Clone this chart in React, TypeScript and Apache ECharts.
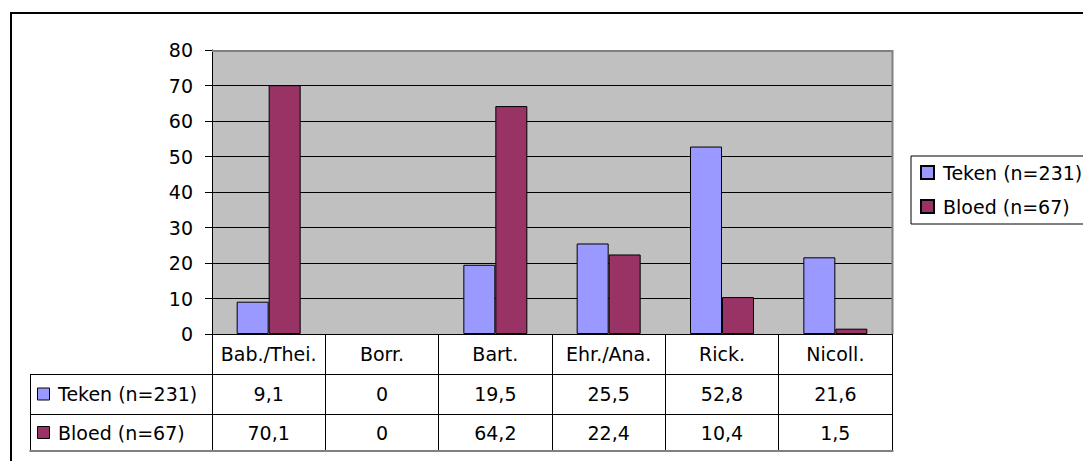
import React, { useEffect, useRef } from "react";
import * as echarts from "echarts";

const categories = ["Bab./Thei.", "Borr.", "Bart.", "Ehr./Ana.", "Rick.", "Nicoll."];
const seriesNames = ["Teken (n=231)", "Bloed (n=67)"];
const tekenValues = [9.1, 0, 19.5, 25.5, 52.8, 21.6];
const bloedValues = [70.1, 0, 64.2, 22.4, 10.4, 1.5];
const yTicks = { min: 0, max: 80, interval: 10 };

const COLORS = ["#9999FF", "#993366"];
const FONT = "DejaVu Sans";
const FS = 19;

const G = { left: 212, top: 50, width: 680, height: 284 };
const ROW_H1 = 40; // header row
const ROW2_Y = G.top + G.height + ROW_H1; // 374
const ROW3_Y = ROW2_Y + 40; // 414
const TABLE_BOTTOM = 451;
const TABLE_LEFT = 30;

const fmt = (v: number) => String(v).replace(".", ",");
const barData = (vals: number[]) =>
  vals.map((v) => (v === 0 ? { value: v, itemStyle: { borderWidth: 0 } } : v));

export default function App() {
  const ref = useRef<HTMLDivElement>(null);
  useEffect(() => {
    if (!ref.current) return;
    const chart = echarts.init(ref.current, null, { renderer: "svg" });
    const right = G.left + G.width;
    const bottom = G.top + G.height;
    const rowCenters = [(ROW2_Y + ROW3_Y) / 2, (ROW3_Y + TABLE_BOTTOM) / 2];
    const valueRows = [tekenValues, bloedValues];
    const labelStyle = { fontFamily: FONT, fontSize: FS, color: "#000" };

    const valueAxis = (idx: number) => ({
      type: "category",
      gridIndex: 0,
      position: "bottom",
      data: categories,
      axisLine: { show: false },
      axisTick: { show: false },
      splitLine: { show: false },
      axisLabel: {
        ...labelStyle,
        interval: 0,
        verticalAlign: "middle",
        margin: rowCenters[idx] - bottom,
        formatter: (_v: string, i: number) => fmt(valueRows[idx][i]),
      },
    });

    const graphics: any[] = [
      {
        type: "rect",
        shape: { x: 11, y: 13, width: 1300, height: 700 },
        style: { fill: "none", stroke: "#000", lineWidth: 2 },
        z: 10,
      },
      {
        type: "line",
        shape: { x1: G.left, y1: G.top + 1, x2: right + 1, y2: G.top + 1 },
        style: { stroke: "#808080", lineWidth: 2 },
        z: 10,
      },
      {
        type: "line",
        shape: { x1: right + 0.5, y1: G.top, x2: right + 0.5, y2: bottom },
        style: { stroke: "#808080", lineWidth: 2 },
        z: 10,
      },
      {
        type: "line",
        shape: { x1: TABLE_LEFT, y1: ROW2_Y + 0.5, x2: right, y2: ROW2_Y + 0.5 },
        style: { stroke: "#000", lineWidth: 1 },
        z: 10,
      },
      {
        type: "line",
        shape: { x1: TABLE_LEFT, y1: ROW3_Y + 0.5, x2: right, y2: ROW3_Y + 0.5 },
        style: { stroke: "#000", lineWidth: 1 },
        z: 10,
      },
      {
        type: "line",
        shape: { x1: TABLE_LEFT + 0.5, y1: ROW2_Y, x2: TABLE_LEFT + 0.5, y2: TABLE_BOTTOM },
        style: { stroke: "#000", lineWidth: 1 },
        z: 10,
      },
      {
        type: "line",
        shape: { x1: TABLE_LEFT - 0.5, y1: TABLE_BOTTOM, x2: right + 1.5, y2: TABLE_BOTTOM },
        style: { stroke: "#808080", lineWidth: 2 },
        z: 11,
      },
    ];
    seriesNames.forEach((name, i) => {
      const cy = rowCenters[i];
      graphics.push({
        type: "rect",
        shape: { x: 37.5, y: cy - 6, width: 12, height: 12 },
        style: { fill: COLORS[i], stroke: "#000", lineWidth: 1 },
        z: 10,
      });
      graphics.push({
        type: "text",
        x: 58,
        y: cy,
        style: {
          text: name,
          font: `${FS}px '${FONT}'`,
          fill: "#000",
          verticalAlign: "middle",
          align: "left",
        },
        z: 10,
      });
    });

    chart.setOption({
      animation: false,
      backgroundColor: "#ffffff",
      grid: {
        left: G.left,
        top: G.top,
        width: G.width,
        height: G.height,
        show: true,
        backgroundColor: "#C0C0C0",
        borderWidth: 0,
      },
      legend: {
        orient: "vertical",
        left: 911,
        top: 156,
        padding: [7, 60, 8, 9],
        itemGap: 15,
        itemWidth: 13,
        itemHeight: 13,
        icon: "rect",
        borderColor: "#000",
        borderWidth: 1,
        textStyle: { ...labelStyle, padding: [0, 0, 0, 4] },
        data: seriesNames,
      },
      xAxis: [
        {
          type: "category",
          gridIndex: 0,
          position: "bottom",
          data: categories,
          axisLine: { show: true, lineStyle: { color: "#000", width: 1 } },
          axisTick: {
            show: true,
            interval: 0,
            length: TABLE_BOTTOM - bottom,
            lineStyle: { color: "#000", width: 1 },
          },
          splitLine: { show: false },
          axisLabel: { ...labelStyle, interval: 0, verticalAlign: "middle", margin: ROW_H1 / 2 },
        },
        valueAxis(0),
        valueAxis(1),
      ],
      yAxis: {
        type: "value",
        min: yTicks.min,
        max: yTicks.max,
        interval: yTicks.interval,
        axisLine: { show: true, lineStyle: { color: "#000", width: 1 } },
        axisTick: { show: true, length: 7, lineStyle: { color: "#000" } },
        splitLine: { show: true, lineStyle: { color: "#000", width: 1 } },
        axisLabel: { ...labelStyle, margin: 19 },
      },
      series: [
        {
          name: seriesNames[0],
          type: "bar",
          xAxisIndex: 0,
          data: barData(tekenValues),
          barWidth: 32,
          barGap: "0%",
          itemStyle: { color: COLORS[0], borderColor: "#000", borderWidth: 1 },
        },
        {
          name: seriesNames[1],
          type: "bar",
          xAxisIndex: 0,
          data: barData(bloedValues),
          barWidth: 32,
          barGap: "0%",
          itemStyle: { color: COLORS[1], borderColor: "#000", borderWidth: 1 },
        },
      ],
      graphic: graphics,
    });
    return () => chart.dispose();
  }, []);
  return (
    <div
      ref={ref}
      style={{ position: "absolute", left: 0, top: 0, width: 1083, height: 461 }}
    />
  );
}
